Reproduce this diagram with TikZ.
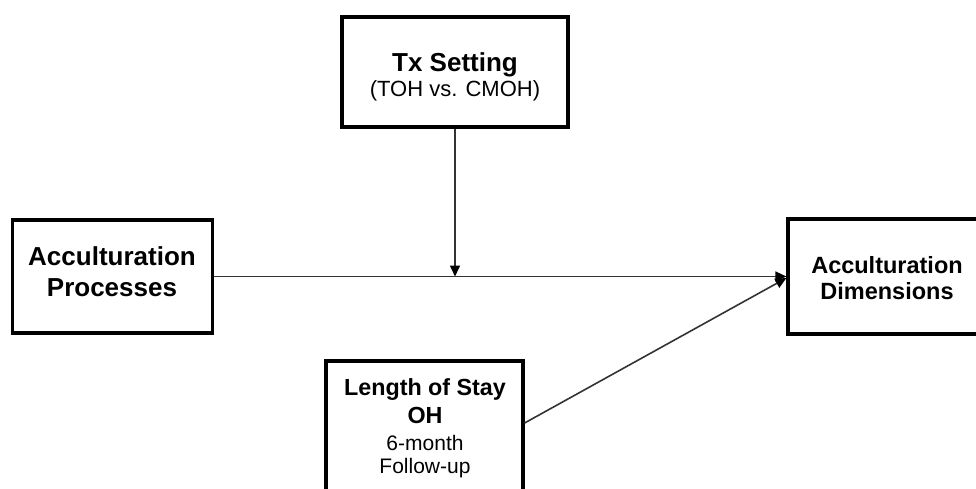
\documentclass[tikz,border=0pt]{standalone}
\usepackage{fontspec}
\setmainfont{Liberation Sans}
\usetikzlibrary{arrows.meta}
\begin{document}
\begin{tikzpicture}[x=1pt,y=-1pt,
  box/.style={draw=black, line width=3.2pt, inner sep=0pt},
  boxtext/.style={anchor=base, inner sep=0pt},
  link/.style={draw=black!80, line width=1.6pt,
    -{Triangle[length=11pt,width=10pt,fill=black,color=black]}}]
\useasboundingbox (0,0) rectangle (976,489);

% frames
\node[box, minimum width=226pt, minimum height=110pt] (ts) at (455,72) {};
\node[box, minimum width=200pt, minimum height=113pt] (ap) at (112.75,276.5) {};
\node[box, minimum width=198pt, minimum height=115pt] (ad) at (887,276.5) {};
\node[box, minimum width=197pt, minimum height=136pt] (ls) at (424.5,429) {};

% texts
\node[boxtext, font=\fontsize{26}{25}\selectfont\bfseries] (tsT) at (455,72)
  {\begin{tabular}[t]{@{}c@{}}Tx Setting\\
   \fontsize{22}{25}\selectfont\mdseries (TOH vs. CMOH)\end{tabular}};
\node[boxtext, font=\fontsize{26}{31}\selectfont\bfseries] (apT) at (112,265)
  {\begin{tabular}[t]{@{}c@{}}Acculturation\\Processes\end{tabular}};
\node[boxtext, font=\fontsize{23.5}{26}\selectfont\bfseries] (adT) at (887,273)
  {\begin{tabular}[t]{@{}c@{}}Acculturation\\Dimensions\end{tabular}};
\node[boxtext, font=\fontsize{23.3}{28}\selectfont\bfseries] (lsT) at (425,395)
  {\begin{tabular}[t]{@{}c@{}}Length of Stay\\OH\\[-1pt]
   \fontsize{21}{28}\selectfont\mdseries 6-month\\[-5pt]
   \fontsize{21}{28}\selectfont\mdseries Follow-up\end{tabular}};

% connectors
\coordinate (meet) at (455,276.5);
\draw[link] (ts.south) -- (meet);
\draw[link] (ap.east) -- (ad.west);
\draw[link] ([yshift=6pt]ls.east) -- ([yshift=-1.5pt]ad.west);
\end{tikzpicture}
\end{document}
